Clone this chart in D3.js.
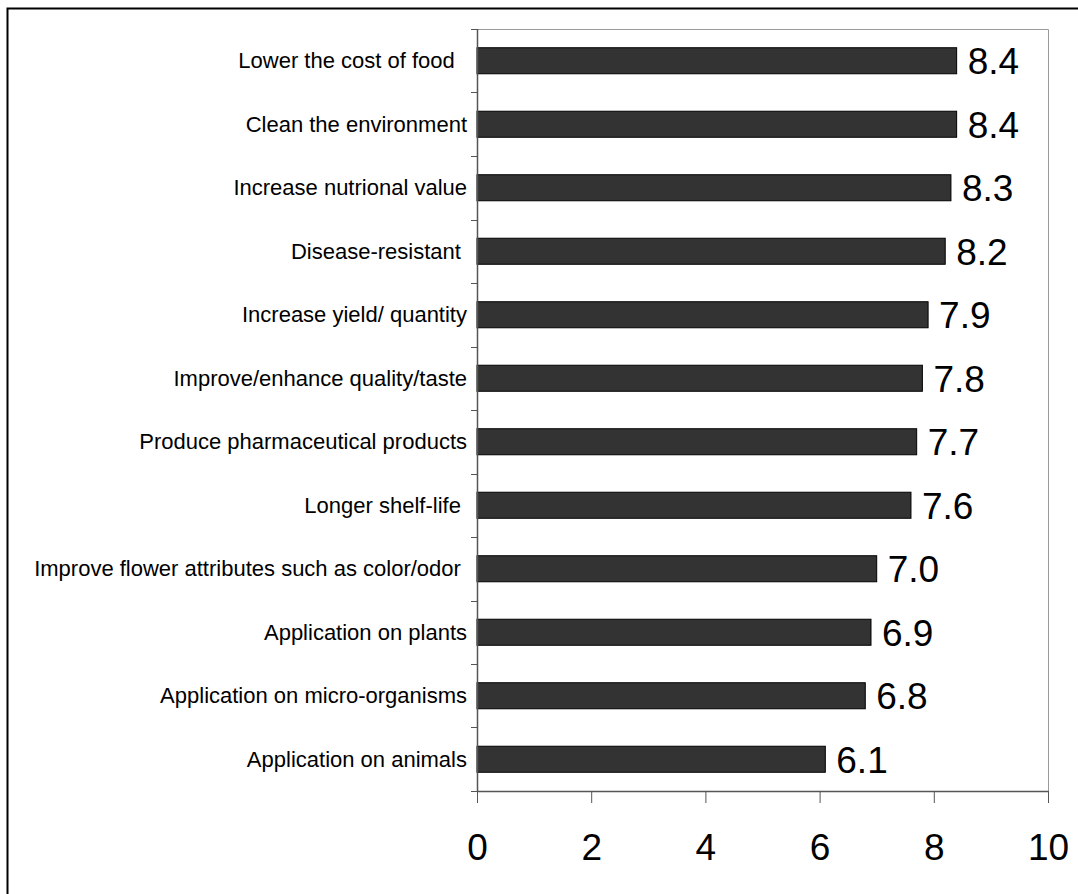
<!DOCTYPE html>
<html>
<head>
<meta charset="utf-8">
<script src="https://cdn.jsdelivr.net/npm/d3@7"></script>
<style>
  html, body { margin: 0; padding: 0; background: #fff; }
  text { font-family: Arial, "Liberation Sans", sans-serif; white-space: pre; }
</style>
</head>
<body>
<svg id="chart" width="1078" height="894"></svg>
<script>
// Perceived benefits of biotechnology, mean scores (0-10)
const categories = [
  "Lower the cost of food  ",
  "Clean the environment",
  "Increase nutrional value",
  "Disease-resistant ",
  "Increase yield/ quantity",
  "Improve/enhance quality/taste",
  "Produce pharmaceutical products",
  "Longer shelf-life ",
  "Improve flower attributes such as color/odor ",
  "Application on plants",
  "Application on micro-organisms",
  "Application on animals"
];
const values = [8.4, 8.4, 8.3, 8.2, 7.9, 7.8, 7.7, 7.6, 7.0, 6.9, 6.8, 6.1];
const xTicks = [0, 2, 4, 6, 8, 10];

const svg = d3.select("#chart");
const W = 1078, H = 894;

// outer frame
svg.append("rect")
  .attr("x", 7.5).attr("y", 8.5)
  .attr("width", W + 20).attr("height", H + 20)
  .attr("fill", "none").attr("stroke", "#000").attr("stroke-width", 2);

const plot = { left: 477, right: 1048, top: 29, bottom: 791 };

const x = d3.scaleLinear().domain([0, 10]).range([plot.left, plot.right]);
const y = d3.scaleBand().domain(categories)
  .range([plot.top, plot.bottom]).paddingInner(0.59).paddingOuter(0.295);
const yEdges = d3.scaleLinear().domain([0, categories.length]).range([plot.top, plot.bottom]);

// plot area frame (top and right)
svg.append("path")
  .attr("d", `M${plot.left},${plot.top + 0.5}H${plot.right + 0.5}V${plot.bottom}`)
  .attr("fill", "none").attr("stroke", "#9a9a9a").attr("stroke-width", 1);

// bars
svg.append("g").selectAll("rect")
  .data(values)
  .join("rect")
  .attr("x", x(0))
  .attr("y", (d, i) => y(categories[i]))
  .attr("width", d => x(d) - x(0))
  .attr("height", y.bandwidth())
  .attr("fill", "#333333")
  .attr("stroke", "#000")
  .attr("stroke-width", 1);

// value labels
svg.append("g").selectAll("text")
  .data(values)
  .join("text")
  .attr("x", d => x(d) + 11)
  .attr("y", (d, i) => y(categories[i]) + y.bandwidth() / 2)
  .attr("dy", "0.36em")
  .attr("font-size", 37)
  .attr("fill", "#000")
  .text(d => d.toFixed(1));

// y axis: line with ticks at category boundaries
const yAxisG = svg.append("g");
yAxisG.append("line")
  .attr("x1", plot.left + 0.5).attr("x2", plot.left + 0.5)
  .attr("y1", plot.top).attr("y2", plot.bottom)
  .attr("stroke", "#555").attr("stroke-width", 1.5);
yAxisG.selectAll("line.tick")
  .data(d3.range(categories.length + 1))
  .join("line")
  .attr("class", "tick")
  .attr("x1", plot.left - 6).attr("x2", plot.left)
  .attr("y1", i => Math.round(yEdges(i)) + 0.5)
  .attr("y2", i => Math.round(yEdges(i)) + 0.5)
  .attr("stroke", "#555").attr("stroke-width", 1);
yAxisG.selectAll("text")
  .data(categories)
  .join("text")
  .attr("x", plot.left - 10)
  .attr("y", d => y(d) + y.bandwidth() / 2)
  .attr("dy", "0.35em")
  .attr("text-anchor", "end")
  .attr("font-size", 22)
  .attr("fill", "#000")
  .text(d => d);

// x axis
const xAxis = d3.axisBottom(x).tickValues(xTicks).tickSize(12).tickPadding(31).tickFormat(d3.format("d"));
const xg = svg.append("g")
  .attr("transform", `translate(0,${plot.bottom})`)
  .call(xAxis);
xg.select(".domain").attr("stroke", "#555").attr("stroke-width", 1.5)
  .attr("d", `M${plot.left},0.5H${plot.right + 0.5}`);
xg.selectAll(".tick line").attr("stroke", "#555");
xg.selectAll(".tick text")
  .attr("font-size", 37)
  .attr("font-family", "Arial, 'Liberation Sans', sans-serif")
  .attr("fill", "#000");
</script>
</body>
</html>
